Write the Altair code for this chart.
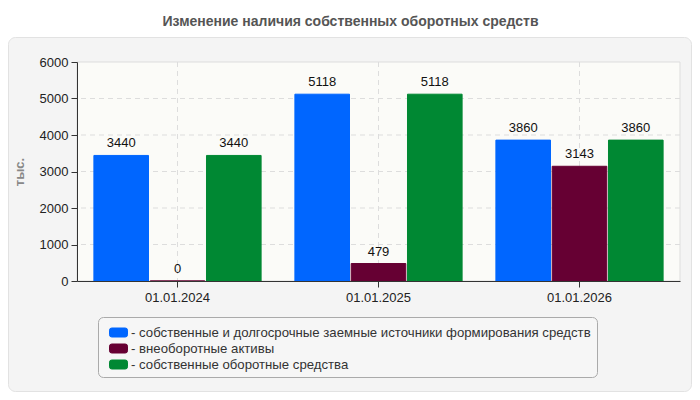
import altair as alt
import pandas as pd

dates = ["01.01.2024", "01.01.2025", "01.01.2026"]
series = [
    "собственные и долгосрочные заемные источники формирования средств",
    "внеоборотные активы",
    "собственные оборотные средства",
]
own_and_longterm = [3440, 5118, 3860]
non_current = [0, 479, 3143]
working_capital = [3440, 5118, 3860]
colors = ["#0066ff", "#660033", "#008833"]
y_ticks = [0, 1000, 2000, 3000, 4000, 5000, 6000]
y_grid = [1000, 2000, 3000, 4000, 5000]

FONT = "Arial, Liberation Sans, sans-serif"
W, H = 603, 219

rows = []
for name, vals in zip(series, [own_and_longterm, non_current, working_capital]):
    for d, v in zip(dates, vals):
        rows.append({"date": d, "series": name, "value": v})
df = pd.DataFrame(rows)

color_scale = alt.Scale(domain=series, range=colors)
x_scale = alt.Scale(domain=dates, paddingInner=0, paddingOuter=0)
y_scale = alt.Scale(domain=[0, 6000], nice=False)

x_axis = alt.Axis(
    title=None, labelAngle=0, labelFontSize=13, labelColor="#222",
    labelPadding=4, tickSize=6, tickColor="#333", domainColor="#333",
    bandPosition=0.5, grid=False, zindex=1, labelFont=FONT,
)
y_axis = alt.Axis(
    title="тыс.", values=y_ticks, format="d", labelFontSize=13,
    labelColor="#222", labelPadding=3, tickSize=6, tickColor="#333",
    domainColor="#333", grid=False, zindex=1, labelFont=FONT,
    titleFont=FONT, titleFontSize=13, titleFontWeight="bold",
    titleColor="#888", titleAngle=270, titleX=-58, titleY=H / 2,
    titleAlign="center", titleBaseline="middle",
)

one = pd.DataFrame({"k": [0]})

# grey rounded panel behind everything
panel = alt.Chart(one).mark_rect(
    fill="#f4f4f4", stroke="#e2e2e2", strokeWidth=1, cornerRadius=7
).encode(
    x=alt.value(-68.5), x2=alt.value(614.5),
    y=alt.value(-24.5), y2=alt.value(329.5),
)

plot_bg = alt.Chart(one).mark_rect(
    fill="#fbfbf8", stroke="#dddddd", strokeWidth=1
).encode(
    x=alt.value(0), x2=alt.value(W), y=alt.value(0), y2=alt.value(H),
)

hgrid = alt.Chart(pd.DataFrame({"v": y_grid})).mark_rule(
    color="#dddddd", strokeDash=[5, 4]
).encode(y=alt.Y("v:Q", scale=y_scale, axis=y_axis))

vgrid = alt.Chart(pd.DataFrame({"date": dates})).mark_rule(
    color="#dddddd", strokeDash=[5, 4]
).encode(x=alt.X("date:N", scale=x_scale, axis=x_axis, sort=dates))

offset = alt.XOffset(
    "series:N", sort=series,
    scale=alt.Scale(domain=series, paddingOuter=0.3, paddingInner=0.03),
)

bars = alt.Chart(df).mark_bar(strokeWidth=1).encode(
    x=alt.X("date:N", scale=x_scale, axis=x_axis, sort=dates),
    xOffset=offset,
    y=alt.Y("value:Q", scale=y_scale, axis=y_axis),
    color=alt.Color(
        "series:N", scale=color_scale, sort=series,
        legend=alt.Legend(
            title=None, orient="none", legendX=21, legendY=255,
            labelExpr="'- ' + datum.label",
        ),
    ),
    stroke=alt.Stroke("series:N", scale=color_scale, legend=None),
)

labels = alt.Chart(df).mark_text(
    baseline="alphabetic", dy=-8, fontSize=13, color="#111", font=FONT
).encode(
    x=alt.X("date:N", scale=x_scale, axis=x_axis, sort=dates),
    xOffset=offset,
    y=alt.Y("value:Q", scale=y_scale, axis=y_axis),
    text=alt.Text("value:Q"),
)

rr = "M-0.75,-0.5 L0.75,-0.5 Q1,-0.5 1,-0.25 L1,0.25 Q1,0.5 0.75,0.5 " \
     "L-0.75,0.5 Q-1,0.5 -1,0.25 L-1,-0.25 Q-1,-0.5 -0.75,-0.5 Z"

chart = (
    alt.layer(panel, plot_bg, hgrid, vgrid, bars, labels)
    .properties(
        width=W, height=H,
        autosize=alt.AutoSizeParams(type="none"),
        padding={"left": 69, "top": 54, "right": 12, "bottom": 111},
        title=alt.TitleParams(
            "Изменение наличия собственных оборотных средств",
            anchor="middle", frame="group", dx=-28, dy=15, offset=12,
            baseline="alphabetic",
            font=FONT, fontSize=14, fontWeight="bold", color="#555",
        ),
    )
    .configure_view(stroke=None)
    .configure_legend(
        fillColor="#f6f6f6", strokeColor="#aaaaaa", cornerRadius=5,
        padding=6, symbolOffset=5, labelFontSize=13.2, labelColor="#333",
        labelFont=FONT, labelLimit=700, rowPadding=0, labelOffset=3,
        symbolType=rr, symbolSize=324, symbolStrokeColor="#888",
        symbolStrokeWidth=1,
    )
)

chart.save("out.html", embed_options={"renderer": "svg", "actions": False})
